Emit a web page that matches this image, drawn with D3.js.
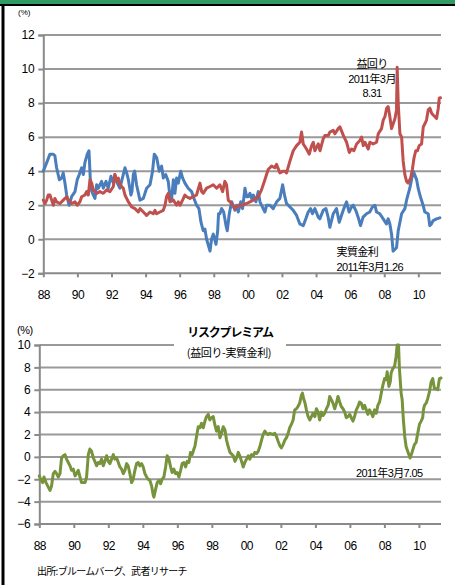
<!DOCTYPE html>
<html><head><meta charset="utf-8">
<script src="https://cdn.jsdelivr.net/npm/d3@7"></script>
<style>
html,body{margin:0;padding:0;background:#fff;}
svg{display:block;}
text{font-family:"Liberation Sans",Arial,"Noto Sans CJK JP",sans-serif;fill:#000;}
.jp{font-family:"Noto Sans CJK JP","Liberation Sans",sans-serif;}
.mix{font-family:"Liberation Sans",Arial,"Noto Sans CJK JP",sans-serif;}
</style></head>
<body>
<script>
// ---------- DATA ----------
const xTickValues = [1988,1990,1992,1994,1996,1998,2000,2002,2004,2006,2008,2010];
const xTickLabels = ["88","90","92","94","96","98","00","02","04","06","08","10"];
const topYTicks = [-2,0,2,4,6,8,10,12];
const bottomYTicks = [-6,-4,-2,0,2,4,6,8,10];

// 実質金利 (real rate) [year, %]
const realRate = [[1988.00,4.0],[1988.20,4.5],[1988.39,5.0],[1988.59,5.0],[1988.68,4.9],[1988.78,4.2],[1988.94,3.5],[1989.08,3.6],[1989.17,3.9],[1989.27,3.3],[1989.37,2.6],[1989.51,2.0],[1989.66,2.5],[1989.86,2.8],[1989.99,3.5],[1990.11,3.8],[1990.25,4.2],[1990.35,3.8],[1990.44,4.5],[1990.58,5.0],[1990.68,5.2],[1990.78,3.0],[1990.89,2.7],[1991.03,2.4],[1991.13,3.2],[1991.23,3.0],[1991.42,3.4],[1991.52,3.0],[1991.68,3.4],[1991.81,3.0],[1991.97,3.7],[1992.11,3.3],[1992.20,3.8],[1992.34,3.3],[1992.50,3.0],[1992.59,3.4],[1992.79,4.2],[1992.89,3.9],[1992.99,3.5],[1993.14,2.6],[1993.20,2.8],[1993.28,3.8],[1993.36,4.0],[1993.47,3.2],[1993.67,2.3],[1993.87,2.4],[1994.06,3.0],[1994.26,3.2],[1994.41,4.0],[1994.51,5.0],[1994.65,4.8],[1994.80,4.0],[1994.94,4.3],[1995.04,3.6],[1995.18,3.8],[1995.33,3.4],[1995.43,2.5],[1995.53,2.4],[1995.63,3.5],[1995.72,2.7],[1995.82,3.6],[1995.92,3.3],[1996.06,4.0],[1996.17,3.6],[1996.31,3.3],[1996.50,3.0],[1996.70,2.8],[1996.80,2.5],[1996.99,2.0],[1997.13,1.8],[1997.25,1.0],[1997.38,0.5],[1997.48,0.6],[1997.58,0.0],[1997.78,-0.7],[1997.87,0.0],[1997.97,0.3],[1998.13,-0.3],[1998.23,0.5],[1998.28,1.5],[1998.36,1.5],[1998.46,1.8],[1998.58,1.6],[1998.72,0.8],[1998.79,0.5],[1998.91,1.5],[1999.05,2.2],[1999.24,1.7],[1999.34,2.0],[1999.44,1.6],[1999.58,2.2],[1999.69,1.8],[1999.83,3.0],[1999.93,2.5],[2000.02,2.5],[2000.12,2.7],[2000.22,2.4],[2000.32,2.6],[2000.47,2.2],[2000.61,2.8],[2000.71,2.2],[2000.90,1.8],[2001.00,1.6],[2001.10,2.0],[2001.29,2.0],[2001.49,1.8],[2001.69,2.2],[2001.88,2.4],[2002.04,3.2],[2002.17,2.5],[2002.27,2.1],[2002.47,1.9],[2002.66,1.7],[2002.86,1.4],[2003.05,0.9],[2003.25,0.8],[2003.40,1.2],[2003.54,1.6],[2003.68,1.8],[2003.79,1.5],[2003.93,1.8],[2004.13,1.3],[2004.22,1.2],[2004.42,1.7],[2004.58,1.8],[2004.71,1.3],[2004.81,0.7],[2005.01,1.5],[2005.20,1.8],[2005.36,1.0],[2005.49,1.4],[2005.63,1.8],[2005.79,2.2],[2005.94,1.6],[2006.08,1.9],[2006.18,2.0],[2006.33,1.7],[2006.47,1.3],[2006.61,0.8],[2006.76,1.3],[2006.96,1.5],[2007.15,1.6],[2007.31,1.9],[2007.45,2.0],[2007.55,1.6],[2007.74,1.5],[2007.94,1.2],[2008.13,0.9],[2008.23,1.2],[2008.33,0.9],[2008.43,0.3],[2008.52,-0.7],[2008.72,-0.5],[2008.82,0.5],[2009.02,1.5],[2009.21,1.8],[2009.31,2.3],[2009.50,3.0],[2009.60,3.5],[2009.70,4.0],[2009.90,3.5],[2009.99,3.0],[2010.09,2.6],[2010.28,2.0],[2010.38,1.6],[2010.58,1.5],[2010.67,0.8],[2010.77,0.9],[2010.87,1.1],[2011.07,1.2],[2011.26,1.26]];

// 益回り (earnings yield) [year, %]
const earningsYield = [[1988.00,2.3],[1988.10,2.1],[1988.20,2.3],[1988.29,2.6],[1988.39,2.6],[1988.49,2.3],[1988.59,2.0],[1988.68,2.4],[1988.78,2.2],[1988.98,2.1],[1989.17,2.3],[1989.37,2.5],[1989.47,2.3],[1989.56,2.2],[1989.66,2.1],[1989.86,2.2],[1989.99,2.0],[1990.15,2.2],[1990.25,2.5],[1990.44,2.6],[1990.54,2.8],[1990.64,2.6],[1990.74,3.5],[1990.84,3.3],[1990.93,2.9],[1991.13,2.7],[1991.32,2.8],[1991.52,2.7],[1991.72,2.9],[1991.91,2.8],[1992.11,3.1],[1992.20,3.8],[1992.30,3.4],[1992.40,3.6],[1992.50,3.2],[1992.69,3.0],[1992.79,2.6],[1992.99,2.2],[1993.18,1.9],[1993.38,1.8],[1993.57,1.6],[1993.67,1.8],[1993.87,1.6],[1994.06,1.4],[1994.26,1.6],[1994.45,1.5],[1994.55,1.7],[1994.65,1.5],[1994.84,1.6],[1995.04,1.7],[1995.14,2.0],[1995.23,2.5],[1995.33,2.7],[1995.43,2.2],[1995.63,2.3],[1995.82,2.0],[1995.92,2.2],[1996.02,2.0],[1996.17,2.3],[1996.31,2.6],[1996.41,2.5],[1996.60,2.4],[1996.80,2.5],[1996.99,2.6],[1997.19,3.3],[1997.29,2.8],[1997.38,2.7],[1997.58,3.0],[1997.78,3.1],[1997.97,3.2],[1998.17,3.0],[1998.36,3.2],[1998.52,2.8],[1998.65,3.4],[1998.75,3.2],[1998.85,2.3],[1999.05,2.1],[1999.24,1.8],[1999.44,2.0],[1999.64,2.0],[1999.93,2.1],[2000.12,2.2],[2000.32,2.3],[2000.61,2.5],[2000.80,2.9],[2001.00,3.5],[2001.19,4.1],[2001.39,4.3],[2001.58,4.2],[2001.68,4.4],[2001.88,3.9],[2002.07,4.0],[2002.17,4.0],[2002.27,3.9],[2002.47,4.6],[2002.66,5.2],[2002.86,5.5],[2003.05,5.7],[2003.15,6.3],[2003.25,5.6],[2003.44,5.3],[2003.60,5.0],[2003.74,5.5],[2003.84,5.7],[2003.93,5.2],[2004.13,5.6],[2004.23,5.2],[2004.42,5.9],[2004.52,6.1],[2004.72,6.1],[2004.81,6.3],[2005.01,6.4],[2005.11,6.2],[2005.30,6.5],[2005.40,6.6],[2005.60,6.1],[2005.79,5.7],[2005.95,5.1],[2006.08,5.3],[2006.22,5.2],[2006.38,5.6],[2006.57,5.8],[2006.67,6.0],[2006.77,5.5],[2006.87,5.7],[2007.06,5.3],[2007.16,5.7],[2007.35,5.6],[2007.55,5.7],[2007.65,6.2],[2007.84,6.5],[2007.94,7.0],[2008.04,7.2],[2008.14,7.7],[2008.23,7.8],[2008.33,7.2],[2008.43,6.5],[2008.53,6.8],[2008.63,7.1],[2008.72,7.6],[2008.76,10.1],[2008.82,8.0],[2008.92,6.2],[2009.02,6.0],[2009.11,4.6],[2009.21,3.8],[2009.31,3.4],[2009.40,3.3],[2009.55,3.6],[2009.65,4.1],[2009.75,4.8],[2009.85,5.2],[2009.95,5.2],[2010.05,5.5],[2010.19,5.6],[2010.29,6.6],[2010.39,6.8],[2010.48,7.0],[2010.58,7.6],[2010.68,7.7],[2010.78,7.4],[2010.87,7.3],[2010.97,7.2],[2011.07,7.1],[2011.17,7.7],[2011.23,8.3],[2011.30,8.31]];

// リスクプレミアム (益回り-実質金利) [year, %]
const riskPremium = [[1988.00,-1.7],[1988.08,-2.0],[1988.19,-2.3],[1988.27,-1.8],[1988.39,-2.3],[1988.52,-2.7],[1988.62,-3.0],[1988.71,-2.6],[1988.81,-1.5],[1988.91,-1.3],[1989.00,-1.5],[1989.10,-1.8],[1989.20,-1.5],[1989.29,-0.1],[1989.39,0.1],[1989.49,0.2],[1989.58,-0.2],[1989.68,-0.5],[1989.78,-0.8],[1989.87,-1.2],[1989.97,-1.1],[1990.07,-1.7],[1990.16,-1.5],[1990.26,-1.2],[1990.36,-1.8],[1990.45,-2.3],[1990.65,-2.3],[1990.74,-1.8],[1990.84,0.2],[1990.93,0.7],[1991.03,0.5],[1991.13,-0.1],[1991.22,-0.4],[1991.32,-0.8],[1991.42,-0.5],[1991.51,-0.6],[1991.61,-0.2],[1991.71,-0.8],[1991.80,-0.4],[1991.90,0.1],[1992.00,-0.4],[1992.09,-0.6],[1992.19,-0.2],[1992.29,0.2],[1992.38,-0.2],[1992.48,-0.1],[1992.58,-0.5],[1992.67,-0.9],[1992.77,-1.1],[1992.87,-1.5],[1992.96,-1.2],[1993.06,-0.6],[1993.15,-0.8],[1993.25,-1.5],[1993.35,-2.3],[1993.44,-2.0],[1993.54,-1.2],[1993.64,-0.6],[1993.73,-0.5],[1993.83,-0.8],[1993.93,-0.6],[1994.02,-0.9],[1994.12,-1.5],[1994.22,-1.8],[1994.31,-2.0],[1994.41,-2.1],[1994.51,-2.6],[1994.60,-3.4],[1994.64,-3.6],[1994.74,-2.9],[1994.83,-2.3],[1994.93,-2.1],[1995.03,-2.4],[1995.12,-2.0],[1995.22,-1.8],[1995.32,-0.9],[1995.41,0.1],[1995.51,-0.2],[1995.61,-0.9],[1995.70,-1.4],[1995.80,-1.1],[1995.90,-1.5],[1995.99,-1.4],[1996.09,-1.8],[1996.19,-1.2],[1996.28,-0.6],[1996.38,-0.5],[1996.48,-0.9],[1996.57,-0.4],[1996.67,-0.5],[1996.76,0.4],[1996.86,0.2],[1996.96,0.7],[1997.02,0.95],[1997.11,1.8],[1997.21,2.7],[1997.31,2.6],[1997.40,3.0],[1997.50,2.6],[1997.60,3.2],[1997.69,3.6],[1997.79,3.8],[1997.88,3.3],[1997.98,3.5],[1998.08,3.6],[1998.17,2.9],[1998.27,2.3],[1998.37,2.7],[1998.47,1.7],[1998.56,2.1],[1998.66,2.7],[1998.76,2.4],[1998.85,1.5],[1998.95,0.9],[1999.05,0.4],[1999.24,0.1],[1999.34,-0.4],[1999.43,-0.1],[1999.53,0.4],[1999.62,0.1],[1999.72,-0.4],[1999.82,-0.9],[1999.91,-0.5],[2000.01,-0.2],[2000.11,0.1],[2000.20,-0.2],[2000.30,0.2],[2000.40,0.1],[2000.49,0.4],[2000.59,0.3],[2000.69,0.5],[2000.78,0.9],[2000.88,1.5],[2000.97,2.0],[2001.07,2.3],[2001.17,2.1],[2001.26,2.0],[2001.36,2.1],[2001.55,2.0],[2001.65,2.1],[2001.75,1.8],[2001.84,1.4],[2001.94,1.0],[2002.03,0.8],[2002.13,1.1],[2002.23,1.5],[2002.32,1.7],[2002.42,2.1],[2002.51,2.6],[2002.61,2.9],[2002.71,3.3],[2002.80,4.2],[2002.90,4.3],[2002.99,4.5],[2003.09,4.8],[2003.19,5.5],[2003.25,5.7],[2003.32,5.2],[2003.40,4.8],[2003.48,4.2],[2003.58,3.6],[2003.68,3.3],[2003.77,3.6],[2003.87,3.9],[2003.97,3.6],[2004.06,4.3],[2004.16,4.0],[2004.25,3.3],[2004.35,4.0],[2004.45,3.7],[2004.54,3.9],[2004.64,4.3],[2004.74,4.6],[2004.83,5.4],[2004.93,5.1],[2005.02,4.8],[2005.12,4.3],[2005.22,4.8],[2005.31,5.4],[2005.41,4.9],[2005.50,4.5],[2005.60,4.3],[2005.70,4.0],[2005.79,3.5],[2005.89,3.6],[2005.99,3.8],[2006.08,3.5],[2006.18,3.2],[2006.27,3.6],[2006.37,4.2],[2006.47,4.5],[2006.56,4.9],[2006.66,4.8],[2006.76,4.3],[2006.85,4.6],[2006.95,4.2],[2007.04,3.8],[2007.14,4.2],[2007.24,3.9],[2007.33,3.6],[2007.43,4.2],[2007.53,3.9],[2007.62,4.6],[2007.72,4.9],[2007.82,5.7],[2007.91,6.4],[2008.01,7.0],[2008.10,6.9],[2008.16,7.6],[2008.26,6.3],[2008.34,6.7],[2008.39,7.5],[2008.49,7.9],[2008.59,8.1],[2008.68,9.0],[2008.74,10.0],[2008.82,10.0],[2008.87,7.9],[2008.97,5.7],[2009.03,5.1],[2009.10,3.3],[2009.18,1.8],[2009.26,0.9],[2009.35,0.5],[2009.49,-0.1],[2009.60,0.4],[2009.74,1.1],[2009.84,1.3],[2009.93,2.1],[2010.03,2.9],[2010.13,3.2],[2010.22,3.5],[2010.26,4.2],[2010.32,4.6],[2010.42,4.8],[2010.51,5.2],[2010.61,5.8],[2010.71,6.7],[2010.80,7.0],[2010.90,6.1],[2011.00,6.1],[2011.09,6.0],[2011.19,7.0],[2011.28,7.05]];

const topNotes = ["益回り","2011年3月","8.31"];
const realNotes = ["実質金利","2011年3月1.26"];
const bottomNote = "2011年3月7.05";
const bottomTitle = "リスクプレミアム";
const bottomSubtitle = "(益回り-実質金利)";
const sourceText = "出所:ブルームバーグ、武者リサーチ";

// ---------- LAYOUT ----------
const W = 455, H = 585;
const C = {blue:"#4a7dbb", red:"#c0504d", green:"#77933c", grid:"#999999", axis:"#8a8a8a"};

const svg = d3.select("body").append("svg").attr("width", W).attr("height", H);
svg.append("rect").attr("width", W).attr("height", H).attr("fill", "#fff");
svg.append("rect").attr("x",0).attr("y",0).attr("width",W).attr("height",4).attr("fill","#2f9a62");
svg.append("rect").attr("x",0).attr("y",4).attr("width",W).attr("height",2).attr("fill","#000");
svg.append("rect").attr("x",1.5).attr("y",4).attr("width",3).attr("height",H-4).attr("fill","#000");

function panel(opts){
  const g = svg.append("g");
  const x = d3.scaleLinear().domain(opts.xDomain).range(opts.xRange);
  const y = d3.scaleLinear().domain(opts.yDomain).range(opts.yRange);
  const x0 = opts.xRange[0], x1 = opts.xRange[1];
  g.append("g").selectAll("line").data(opts.yTicks.filter(v => v !== opts.yDomain[0])).join("line")
    .attr("x1", x0).attr("x2", x1).attr("y1", d => y(d)).attr("y2", d => y(d))
    .attr("stroke", C.grid).attr("stroke-width", 2);
  const ya = d3.axisLeft(y).tickValues(opts.yTicks).tickSize(5).tickPadding(4).tickFormat(d3.format("d"));
  const yg = g.append("g").attr("transform", `translate(${x0},0)`).call(ya);
  yg.select(".domain").attr("stroke", C.axis).attr("stroke-width", 2);
  yg.selectAll(".tick line").attr("stroke", C.axis).attr("stroke-width", 2);
  yg.selectAll(".tick text").attr("font-size", 12).attr("fill","#000")
    .attr("font-family", '"Liberation Sans",Arial,sans-serif').attr("letter-spacing","-0.3");
  const xa = d3.axisBottom(x).tickValues(xTickValues).tickSize(4).tickPadding(opts.xPad)
    .tickFormat((d,i) => xTickLabels[i]);
  const xg = g.append("g").attr("transform", `translate(0,${y(opts.yDomain[0])})`).call(xa);
  xg.select(".domain").attr("stroke", C.axis).attr("stroke-width", 2).attr("d", `M${x0},0H${x1}`);
  xg.selectAll(".tick line").attr("stroke", C.axis).attr("stroke-width", 2);
  xg.selectAll(".tick text").attr("font-size", 12).attr("fill","#000")
    .attr("font-family", '"Liberation Sans",Arial,sans-serif').attr("letter-spacing","-0.5");
  return {g, x, y};
}

// ---------- TOP PANEL ----------
const topP = panel({xDomain:[1988, 2011.33], xRange:[43.3, 441], yDomain:[-2,12], yRange:[273.3,35],
  yTicks: topYTicks, xPad: 13});
const lineTop = d3.line().x(d => topP.x(d[0])).y(d => topP.y(d[1]));
topP.g.append("path").datum(realRate).attr("d", lineTop).attr("fill","none")
  .attr("stroke", C.blue).attr("stroke-width", 3).attr("stroke-linejoin","round").attr("stroke-linecap","round");
topP.g.append("path").datum(earningsYield).attr("d", lineTop).attr("fill","none")
  .attr("stroke", C.red).attr("stroke-width", 3).attr("stroke-linejoin","round").attr("stroke-linecap","round");

svg.append("text").attr("x", 18).attr("y", 15).attr("font-size", 8).text("(%)");

const topNoteY = [67.5, 82.5, 96.5];
topNotes.forEach((t,i) => svg.append("text").attr("class","mix").attr("x", 372).attr("y", topNoteY[i])
  .attr("text-anchor","middle").attr("font-size", 11).attr("letter-spacing","-0.6").text(t));
const realNoteY = [256, 271];
realNotes.forEach((t,i) => svg.append("text").attr("class","mix").attr("x", 336.5).attr("y", realNoteY[i])
  .attr("font-size", 11).attr("letter-spacing","-0.6").text(t));

// ---------- BOTTOM PANEL ----------
const botP = panel({xDomain:[1988, 2011.28], xRange:[39.3, 441], yDomain:[-6,10], yRange:[524,345],
  yTicks: bottomYTicks, xPad: 13});
svg.append("rect").attr("x", 174).attr("y", 322).attr("width", 112).attr("height", 40).attr("fill", "#fff");
svg.append("text").attr("class","jp").attr("x", 230).attr("y", 336.5).attr("text-anchor","middle")
  .attr("font-size", 12).attr("font-weight","bold").attr("letter-spacing","-1.2").text(bottomTitle);
svg.append("text").attr("class","jp").attr("x", 229).attr("y", 356.5).attr("text-anchor","middle")
  .attr("font-size", 11).attr("letter-spacing","-0.4").text(bottomSubtitle);
svg.append("text").attr("x", 17).attr("y", 334).attr("font-size", 11).attr("letter-spacing","-0.5").text("(%)");

const lineBot = d3.line().x(d => botP.x(d[0])).y(d => botP.y(d[1]));
botP.g.append("path").datum(riskPremium).attr("d", lineBot).attr("fill","none")
  .attr("stroke", C.green).attr("stroke-width", 3).attr("stroke-linejoin","round").attr("stroke-linecap","round");

svg.append("text").attr("class","mix").attr("x", 356).attr("y", 477).attr("font-size", 11)
  .attr("letter-spacing","-0.6").text(bottomNote);

svg.append("text").attr("class","jp").attr("x", 37).attr("y", 575).attr("font-size", 10)
  .attr("letter-spacing","-0.7").text(sourceText);
</script>
</body></html>
